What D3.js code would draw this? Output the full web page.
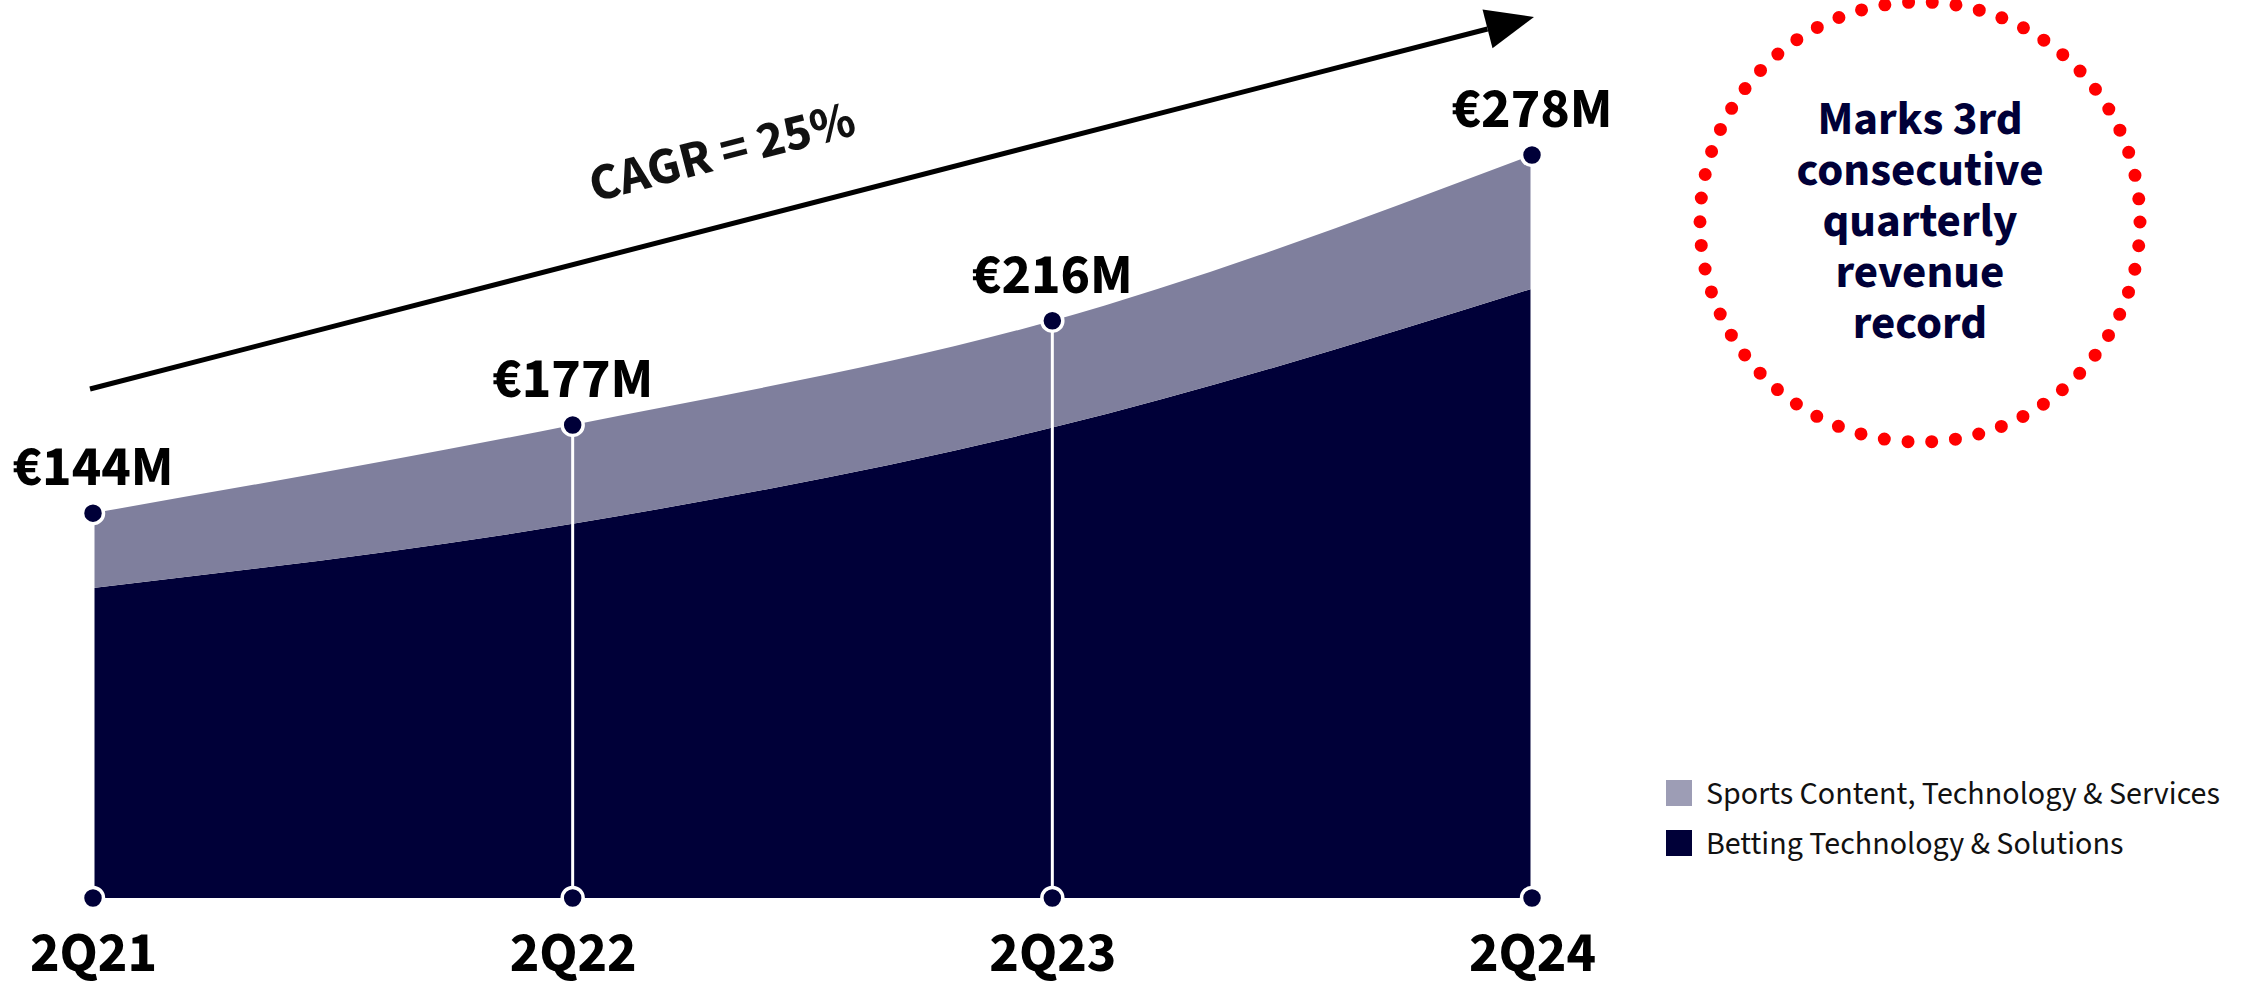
<!DOCTYPE html>
<html>
<head>
<meta charset="utf-8">
<script src="https://cdn.jsdelivr.net/npm/d3@7"></script>
<style>
  html, body { margin: 0; padding: 0; background: #fff; }
  svg { display: block; }
  text { font-family: "Source Sans Pro", "Source Sans 3", Lato, "Noto Sans", sans-serif; }
</style>
</head>
<body>
<svg id="chart" width="2252" height="988"></svg>
<script>
// ---- data ----
const categories = ["2Q21", "2Q22", "2Q23", "2Q24"];
const bettingValues = [116, 140, 176, 228];   // Betting Technology & Solutions (€M)
const sportsValues = [28, 37, 40, 50];        // Sports Content, Technology & Services (€M)
const totalLabels = ["€144M", "€177M", "€216M", "€278M"];
const seriesNames = ["Betting Technology & Solutions", "Sports Content, Technology & Services"];
const cagrLabel = "CAGR = 25%";
const calloutLines = ["Marks 3rd", "consecutive", "quarterly", "revenue", "record"];

// ---- layout ----
const navy = "#000038";
const sportsFill = "#7f7f9d";
const sportsLegend = "#9d9db5";
const fontStack = '"Source Sans Pro", "Source Sans 3", Lato, "Noto Sans", sans-serif';

const svg = d3.select("#chart");

const rows = categories.map((c, i) => ({ cat: c, betting: bettingValues[i], sports: sportsValues[i] }));
const series = d3.stack().keys(["betting", "sports"])(rows);

const x = d3.scalePoint().domain(categories).range([93, 1532]);
const y = d3.scaleLinear().domain([0, 278]).range([898, 155]);

const area = d3.area()
  .x(d => x(d.data.cat))
  .y0(d => y(d[0]))
  .y1(d => y(d[1]))
  .curve(d3.curveMonotoneX);

const colors = { betting: navy, sports: sportsFill };

svg.append("g").selectAll("path")
  .data(series)
  .join("path")
  .attr("d", area)
  .attr("fill", d => colors[d.key]);

// white vertical lines at each category
const totals = rows.map(r => r.betting + r.sports);
svg.append("g").selectAll("line")
  .data(rows)
  .join("line")
  .attr("x1", d => x(d.cat)).attr("x2", d => x(d.cat))
  .attr("y1", (d, i) => y(totals[i])).attr("y2", y(0))
  .attr("stroke", "#fff").attr("stroke-width", 3);

// dots at top and bottom
const dotG = svg.append("g");
rows.forEach((r, i) => {
  [y(totals[i]), y(0)].forEach(cy => {
    dotG.append("circle")
      .attr("cx", x(r.cat)).attr("cy", cy).attr("r", 10.5)
      .attr("fill", navy).attr("stroke", "#fff").attr("stroke-width", 3.5);
  });
});

// value labels
svg.append("g").selectAll("text")
  .data(rows)
  .join("text")
  .attr("x", d => x(d.cat))
  .attr("y", (d, i) => y(totals[i]) - 28)
  .attr("text-anchor", "middle")
  .attr("font-size", 56).attr("font-weight", 700).attr("fill", "#000")
  .text((d, i) => totalLabels[i]);

// x-axis labels (axis without domain/ticks)
const xAxis = d3.axisBottom(x).tickSize(0).tickPadding(0);
const axisG = svg.append("g").attr("transform", `translate(0, 971)`).call(xAxis);
axisG.select(".domain").remove();
axisG.selectAll("text")
  .attr("dy", 0)
  .attr("font-size", 56).attr("font-weight", 700).attr("fill", "#000")
  .style("font-family", fontStack);

// CAGR arrow
const ax1 = 90, ay1 = 389, ax2 = 1534, ay2 = 17;
const ang = Math.atan2(ay2 - ay1, ax2 - ax1);
const headLen = 48, headHalf = 20;
const bx = ax2 - headLen * Math.cos(ang), by = ay2 - headLen * Math.sin(ang);
svg.append("line")
  .attr("x1", ax1).attr("y1", ay1).attr("x2", bx).attr("y2", by)
  .attr("stroke", "#000").attr("stroke-width", 5);
const px = -Math.sin(ang), py = Math.cos(ang);
svg.append("path")
  .attr("d", `M${ax2},${ay2} L${bx + px * headHalf},${by + py * headHalf} L${bx - px * headHalf},${by - py * headHalf} Z`)
  .attr("fill", "#000");
svg.append("text")
  .attr("transform", `translate(726,168) rotate(${ang * 180 / Math.PI})`)
  .attr("text-anchor", "middle")
  .attr("font-size", 52).attr("font-weight", 700).attr("fill", "#111")
  .text(cagrLabel);

// dotted callout circle
const cx = 1920, cy = 222, cr = 220;
const nDots = 58;
const circ = 2 * Math.PI * cr;
svg.append("circle")
  .attr("cx", cx).attr("cy", cy).attr("r", cr)
  .attr("fill", "none").attr("stroke", "#ff0000")
  .attr("stroke-width", 13).attr("stroke-linecap", "round")
  .attr("stroke-dasharray", `0 ${circ / nDots}`);

svg.append("g").selectAll("text")
  .data(calloutLines)
  .join("text")
  .attr("x", cx)
  .attr("y", (d, i) => 134 + i * 51)
  .attr("text-anchor", "middle")
  .attr("font-size", 47).attr("font-weight", 700).attr("fill", navy)
  .text(d => d);

// legend
const legendItems = [
  { name: seriesNames[1], color: sportsLegend },
  { name: seriesNames[0], color: navy }
];
const lg = svg.append("g").attr("transform", "translate(1666,780)");
const li = lg.selectAll("g").data(legendItems).join("g")
  .attr("transform", (d, i) => `translate(0, ${i * 50})`);
li.append("rect").attr("width", 26).attr("height", 26).attr("fill", d => d.color);
li.append("text").attr("x", 40).attr("y", 24)
  .attr("font-size", 32).attr("fill", "#111")
  .text(d => d.name);
</script>
</body>
</html>
